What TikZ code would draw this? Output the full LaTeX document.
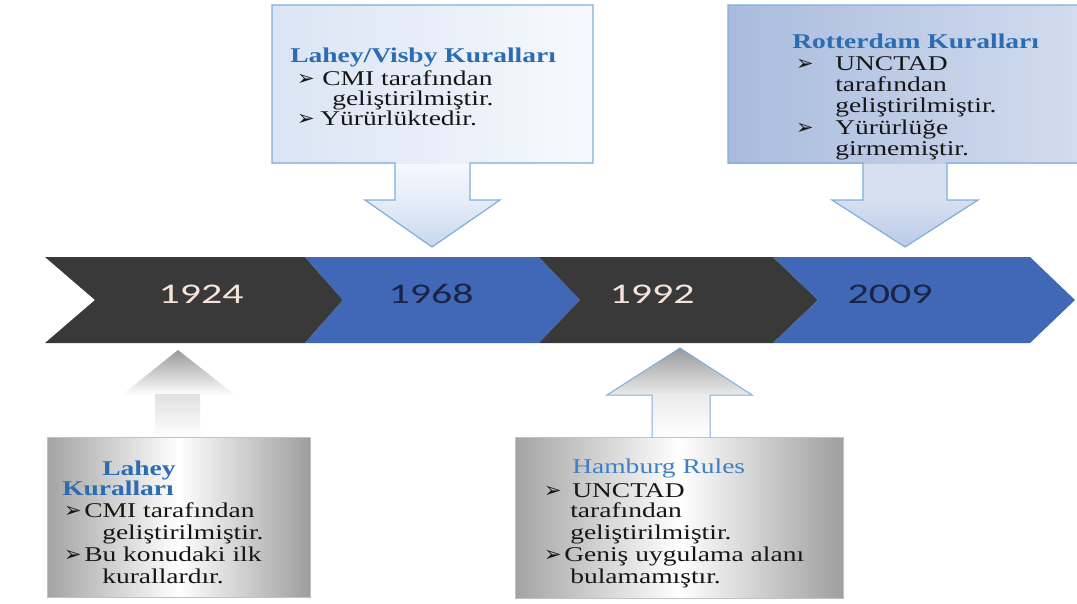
\documentclass[tikz,border=0pt]{standalone}
\usepackage{fontspec}
\setmainfont{Liberation Serif}
\newfontfamily\numfont{Carlito}
\newfontfamily\bulfont{DejaVu Sans}
\definecolor{chevdark}{HTML}{393939}
\definecolor{chevblue}{HTML}{4068B6}
\definecolor{yearlight}{HTML}{F4E4DA}
\definecolor{yeardark}{HTML}{1B2446}
\definecolor{titleblue}{HTML}{2C6CB2}
\definecolor{hamblue}{HTML}{3F80C3}
\definecolor{bodytext}{HTML}{161616}
\definecolor{edgeblue}{HTML}{7FAEDB}
\definecolor{edgegray}{HTML}{B9C3CC}
\definecolor{aLeft}{HTML}{DAE4F3}
\definecolor{aRight}{HTML}{F7F9FD}
\definecolor{aArrowTop}{HTML}{E6EDF8}
\definecolor{aArrowBot}{HTML}{C8D7EE}
\definecolor{bLeft}{HTML}{A9BBDD}
\definecolor{bRight}{HTML}{D2DCEE}
\definecolor{bArrowTop}{HTML}{D6E0F1}
\definecolor{bArrowBot}{HTML}{BACBE7}
\begin{document}
\begin{tikzpicture}[x=1pt,y=-1pt,
  body/.style={anchor=base west, inner sep=0pt, xscale=1.31, font=\fontsize{21}{21}\selectfont, text=bodytext},
  ttl/.style={body, font=\fontsize{21}{21}\selectfont\bfseries, text=titleblue},
  bul/.style={anchor=base west, inner sep=0pt, xscale=1.0, font=\bulfont\fontsize{21}{21}\selectfont, text=bodytext},
  year/.style={inner sep=0pt, xscale=1.47, font=\numfont\fontsize{28.5}{28.5}\selectfont},
  edge/.style={draw=edgeblue, line width=1.2pt},
]
\useasboundingbox (0,0) rectangle (1077,603);
\fill[white] (0,0) rectangle (1077,603);

% ---------- timeline chevrons ----------
\fill[chevdark] (45,257) -- (305,257) -- (343,300) -- (305,343) -- (45,343) -- (95,300) -- cycle;
\fill[chevblue] (305,257) -- (539,257) -- (580,300) -- (539,343) -- (305,343) -- (343,300) -- cycle;
\fill[chevdark] (539,257) -- (773,257) -- (818,300) -- (773,343) -- (539,343) -- (580,300) -- cycle;
\fill[chevblue] (773,257) -- (1030,257) -- (1075,300) -- (1030,343) -- (773,343) -- (818,300) -- cycle;

\node[year, text=yearlight] (y1924) at (201,294) {1924};
\node[year, text=yeardark]  (y1968) at (431,294) {1968};
\node[year, text=yearlight] (y1992) at (652,294) {1992};
\node[year, text=yeardark]  (y2009) at (890,294) {2009};

% ---------- box A (Lahey/Visby) ----------
\shade[top color=aRight, bottom color=aArrowTop] (395,160) rectangle (470,200);
\shade[top color=aArrowTop, bottom color=aArrowBot] (365,200) -- (500,200) -- (432,247) -- cycle;
\shade[left color=aLeft, right color=aRight] (272,5) rectangle (593,163);
\draw[edge, line join=miter] (272,5) -- (593,5) -- (593,163) -- (470,163) -- (470,200) -- (500,200)
  -- (432,247) -- (365,200) -- (395,200) -- (395,163) -- (272,163) -- cycle;

% ---------- box B (Rotterdam) ----------
\shade[top color=bArrowTop, bottom color=bArrowTop] (863,160) rectangle (947,200);
\shade[top color=bArrowTop, bottom color=bArrowBot] (832,200) -- (978,200) -- (905,247) -- cycle;
\shade[left color=bLeft, right color=bRight] (728,5) rectangle (1077,163);
\draw[edge, line join=miter] (1078,5) -- (728,5) -- (728,163) -- (863,163) -- (863,200) -- (832,200)
  -- (905,247) -- (978,200) -- (947,200) -- (947,163) -- (1078,163);

% ---------- box C (Lahey) ----------
\shade[top color=black!40, bottom color=white] (122,395) -- (178,350) -- (235,395) -- cycle;
\shade[top color=black!12, bottom color=white] (155,394) rectangle (200,437);
\shade[left color=black!36, right color=black!38, middle color=white] (47,437) rectangle (310,597);
\draw[edgegray, line width=0.8pt] (47,437) rectangle (310,597);

% ---------- box D (Hamburg) ----------
\shade[top color=black!40, bottom color=black!8] (607,395) -- (680,348) -- (752,395) -- cycle;
\shade[top color=black!8, bottom color=white] (652,394) rectangle (710,437);
\shade[left color=black!36, right color=black!38, middle color=white] (515,437) rectangle (843,598);
\draw[edgegray, line width=0.8pt] (515,437) rectangle (843,598);
\draw[edge, line width=1pt, line join=miter] (652,437) -- (652,395) -- (607,395) -- (680,348) -- (752,395) -- (710,395) -- (710,437);

% ---------- texts A ----------
\node[ttl] (tA) at (290,62) {Lahey/Visby Kuralları};
\node[bul] (bA1) at (297,85) {➢};
\node[body] (A1) at (322,85) {CMI tarafından};
\node[body] (A2) at (332,105) {geliştirilmiştir.};
\node[bul] (bA2) at (297,125) {➢};
\node[body] (A3) at (320,125) {Yürürlüktedir.};

% ---------- texts B ----------
\node[ttl] (tB) at (792,48) {Rotterdam Kuralları};
\node[bul] (bB1) at (796,70) {➢};
\node[body] (B1) at (835,70) {UNCTAD};
\node[body] (B2) at (835,91) {tarafından};
\node[body] (B3) at (835,112) {geliştirilmiştir.};
\node[bul] (bB2) at (796,134) {➢};
\node[body] (B4) at (835,134) {Yürürlüğe};
\node[body] (B5) at (835,155) {girmemiştir.};

% ---------- texts C ----------
\node[ttl] (tC1) at (102,475) {Lahey};
\node[ttl] (tC2) at (62,495) {Kuralları};
\node[bul] (bC1) at (64,517) {➢};
\node[body] (C1) at (84,517) {CMI tarafından};
\node[body] (C2) at (102,539) {geliştirilmiştir.};
\node[bul] (bC2) at (64,561) {➢};
\node[body] (C3) at (84,561) {Bu konudaki ilk};
\node[body] (C4) at (102,583) {kurallardır.};

% ---------- texts D ----------
\node[body, text=hamblue] (tD) at (572,473) {Hamburg Rules};
\node[bul] (bD1) at (544,497) {➢};
\node[body] (D1) at (572,497) {UNCTAD};
\node[body] (D2) at (570,517) {tarafından};
\node[body] (D3) at (570,539) {geliştirilmiştir.};
\node[bul] (bD2) at (544,561) {➢};
\node[body] (D4) at (564,561) {Geniş uygulama alanı};
\node[body] (D5) at (570,583) {bulamamıştır.};
\end{tikzpicture}
\end{document}
